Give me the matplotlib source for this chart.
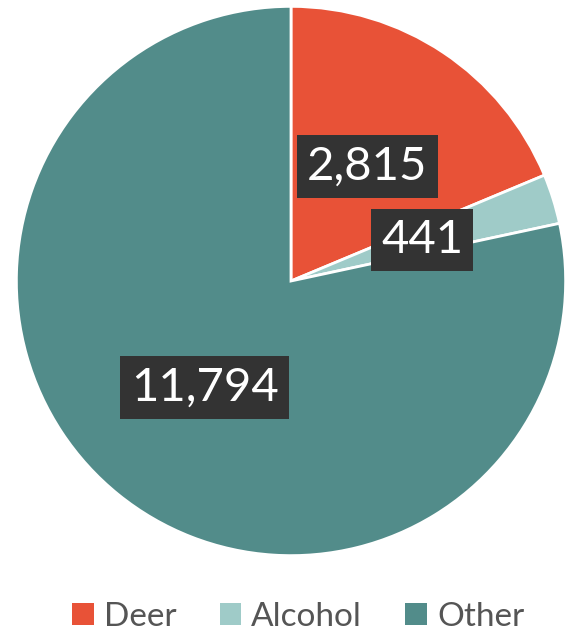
import matplotlib
matplotlib.use("Agg")
import matplotlib.pyplot as plt
from matplotlib.patches import Patch

categories = ["Deer", "Alcohol", "Other"]
values = [2815, 441, 11794]
colors = ["#E85237", "#9FCBC8", "#528C8A"]

W, H = 579, 640
fig = plt.figure(figsize=(W / 100, H / 100), dpi=100)
plt.rcParams["font.family"] = ["Lato", "DejaVu Sans"]

cx, cy, r = 291, 281, 276
ax = fig.add_axes([(cx - r) / W, (H - cy - r) / H, 2 * r / W, 2 * r / H])

wedges, texts = ax.pie(
    values,
    colors=colors,
    startangle=90,
    counterclock=False,
    radius=1,
    labels=[f"{v:,}" for v in values],
    labeldistance=0.5,
    wedgeprops=dict(edgecolor="white", linewidth=2),
)
for t in texts:
    t.set_ha("center")
    t.set_va("center")
    t.set_color("white")
    t.set_fontsize(34)
    t.set_bbox(dict(facecolor="#333333", edgecolor="none", boxstyle="square,pad=0.22"))

ax.set_xlim(-1.005, 1.005)
ax.set_ylim(-1.005, 1.005)
ax.set_aspect("equal")
ax.axis("off")

handles = [Patch(facecolor=c, edgecolor="none") for c in colors]
leg = fig.legend(
    handles, categories, loc="center", bbox_to_anchor=(0.515, 23 / H), ncol=3,
    frameon=False, fontsize=24, handlelength=0.65, handleheight=0.65,
    handletextpad=0.3, columnspacing=1.3, labelcolor="#555555",
)

fig.savefig("out.png", dpi=100)
